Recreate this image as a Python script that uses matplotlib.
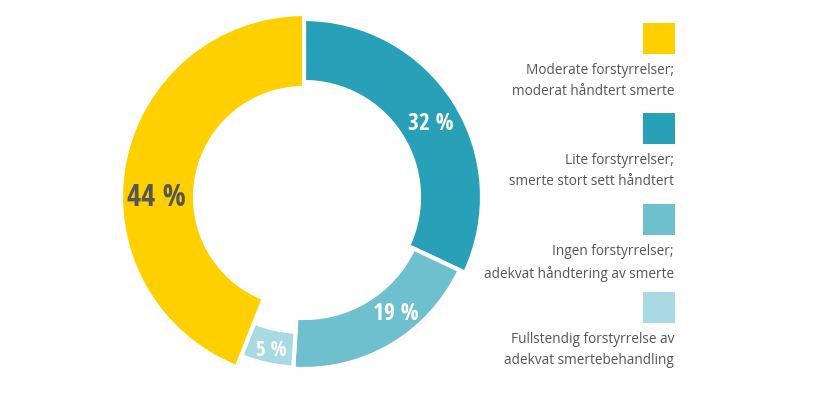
import matplotlib
matplotlib.use("Agg")
import matplotlib.pyplot as plt
from matplotlib.patches import Rectangle

# data
categories = ["Moderate forstyrrelser;\nmoderat håndtert smerte",
              "Lite forstyrrelser;\nsmerte stort sett håndtert",
              "Ingen forstyrrelser;\nadekvat håndtering av smerte",
              "Fullstendig forstyrrelse av\nadekvat smertebehandling"]
values = [44, 32, 19, 5]
value_labels = ["44 %", "32 %", "19 %", "5 %"]

# style
colors = ["#FFD000", "#28A0B8", "#6FC0CF", "#A9DAE3"]
label_colors = ["#555555", "white", "white", "white"]
outer_r = [183, 178, 172, 171]
inner_r = [109, 115, 121, 135]
label_pos = [(156, 198), (431, 124), (396, 314), (271, 350)]  # image px
label_size = [22, 17, 17, 15]
H = 397
center = (304, H - 197)
text_gray = "#555555"

fig = plt.figure(figsize=(8.21, 3.97), dpi=100)
ax = fig.add_axes([0, 0, 1, 1])

# clockwise from 12 o'clock: 32, 19, 5, 44
order = [1, 2, 3, 0]
wedges, _ = ax.pie([values[i] for i in order], colors=[colors[i] for i in order],
                   startangle=90, counterclock=False, center=center, radius=183,
                   wedgeprops=dict(edgecolor="white", linewidth=3))
for w, i in zip(wedges, order):
    w.set_radius(outer_r[i])
    w.set_width(outer_r[i] - inner_r[i])

num_font = ["Open Sans Condensed", "Barlow Condensed", "DejaVu Sans"]
for i in range(len(values)):
    x, y = label_pos[i]
    ax.text(x, H - y, value_labels[i], ha="center", va="center",
            fontsize=label_size[i], fontweight="bold", color=label_colors[i],
            family=num_font)

# legend: square above right-aligned text
sq_tops = [23, 113, 204, 292]
for i in range(len(categories)):
    top = sq_tops[i]
    ax.add_patch(Rectangle((643, H - top - 31), 32, 31, facecolor=colors[i],
                           edgecolor="none"))
    ax.text(674, H - top - 40, categories[i], ha="right", va="top",
            fontsize=9.8, color=text_gray, family="Open Sans",
            linespacing=1.55)

ax.set_xlim(0, 821)
ax.set_ylim(0, H)
ax.set_aspect("equal")
ax.axis("off")

plt.savefig("out.png", dpi=100)
